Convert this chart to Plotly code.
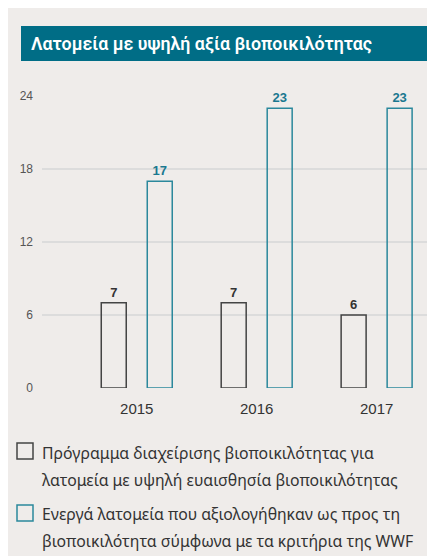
import plotly.graph_objects as go

# ---- data ----
years = ["2015", "2016", "2017"]
program_values = [7, 7, 6]
assessed_values = [17, 23, 23]
y_ticks = [0, 6, 12, 18, 24]
title_text = "Λατομεία με υψηλή αξία βιοποικιλότητας"
legend_lines_1 = ["Πρόγραμμα διαχείρισης βιοποικιλότητας για",
                  "λατομεία με υψηλή ευαισθησία βιοποικιλότητας"]
legend_lines_2 = ["Ενεργά λατομεία που αξιολογήθηκαν ως προς τη",
                  "βιοποικιλότητα σύμφωνα με τα κριτήρια της WWF"]

# ---- style ----
W, H = 427, 548
L, R, T, B = 34, 8, 88, 168
BG = "#efecea"
TEAL_BANNER = "#006d86"
TEAL_LINE = "#2b889c"
TEAL_TEXT = "#1a7890"
DARK_LINE = "#444444"
DARK_TEXT = "#333333"


def px_x(px):
    return (px - L) / (W - L - R)


def px_y(py):
    return (H - B - py) / (H - T - B)


fig = go.Figure()
fig.add_trace(go.Bar(
    x=years, y=program_values, name=legend_lines_1[0],
    marker=dict(color="rgba(0,0,0,0)", line=dict(color=DARK_LINE, width=1.5)),
    text=program_values, textposition="outside", cliponaxis=False,
    textfont=dict(family="Liberation Sans, Arial", size=13, color=DARK_TEXT, weight="bold"),
))
fig.add_trace(go.Bar(
    x=years, y=assessed_values, name=legend_lines_2[0],
    marker=dict(color="rgba(0,0,0,0)", line=dict(color=TEAL_LINE, width=1.5)),
    text=assessed_values, textposition="outside", cliponaxis=False,
    textfont=dict(family="Liberation Sans, Arial", size=13, color=TEAL_TEXT, weight="bold"),
))

shapes = [
    dict(type="rect", xref="paper", yref="paper", layer="below",
         x0=px_x(13), x1=px_x(419), y0=px_y(18), y1=px_y(53),
         fillcolor=TEAL_BANNER, line=dict(width=0)),
    dict(type="rect", xref="paper", yref="paper",
         x0=px_x(9), x1=px_x(25), y0=px_y(435), y1=px_y(451),
         fillcolor="rgba(0,0,0,0)", line=dict(color=DARK_LINE, width=1.5)),
    dict(type="rect", xref="paper", yref="paper",
         x0=px_x(9), x1=px_x(25), y0=px_y(497), y1=px_y(513),
         fillcolor="rgba(0,0,0,0)", line=dict(color=TEAL_LINE, width=1.5)),
]

annotations = [
    dict(text=title_text, xref="paper", yref="paper", x=px_x(21), y=px_y(35.5),
         xanchor="left", yanchor="middle", showarrow=False,
         font=dict(family="Roboto", size=17.8, color="white", weight=600)),
]
legend_font = dict(family="Noto Sans", size=15.8, color="#333333")
for lines, y0 in ((legend_lines_1, 445), (legend_lines_2, 506)):
    for i, line in enumerate(lines):
        annotations.append(dict(text=line, xref="paper", yref="paper",
                                x=px_x(32), y=px_y(y0 + 27 * i),
                                xanchor="left", yanchor="middle", showarrow=False,
                                font=legend_font))

fig.update_layout(
    width=W, height=H,
    margin=dict(l=L, r=R, t=T, b=B),
    paper_bgcolor=BG, plot_bgcolor="rgba(0,0,0,0)",
    showlegend=False,
    barmode="group", bargap=0.233, bargroupgap=0.457,
    shapes=shapes, annotations=annotations,
    xaxis=dict(type="category", range=[-0.79, 2.42], showgrid=False, zeroline=False,
               showline=False, ticks="", ticklabelstandoff=10,
               tickfont=dict(family="Liberation Sans, Arial", size=15, color="#333333")),
    yaxis=dict(range=[0, 24], tickvals=y_ticks, showgrid=True, gridcolor="#dcdcdc",
               gridwidth=1.5, zeroline=False, showline=False, ticks="",
               ticklabelstandoff=8,
               tickfont=dict(family="Liberation Sans, Arial", size=12, color="#555555")),
)

fig.write_html("out.html")
